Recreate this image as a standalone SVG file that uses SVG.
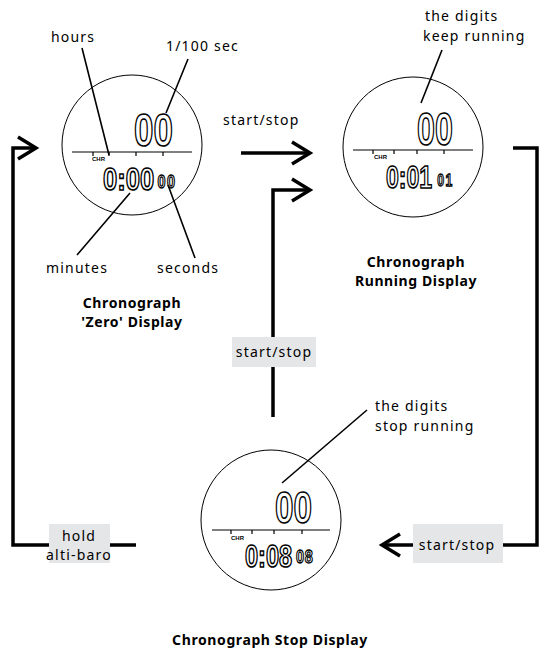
<svg xmlns="http://www.w3.org/2000/svg" width="540" height="652" viewBox="0 0 540 652">
<style>
.lbl{font-family:"Noto Sans","Open Sans",sans-serif;font-size:14px;letter-spacing:1.2px;fill:#000}
.ttl{font-family:"Noto Sans","Open Sans",sans-serif;font-size:14px;font-weight:bold;letter-spacing:0.6px;fill:#000}
.face{fill:#fff;stroke:#000;stroke-width:1}
.rule{stroke:#000;stroke-width:1.2;fill:none}
.lcd{font-family:"Liberation Sans",sans-serif;font-weight:bold;fill:#fff;stroke:#000;stroke-width:1.6}
.sm{stroke-width:1.3}
.chr{font-family:"Liberation Sans",sans-serif;font-size:6px;font-weight:bold;fill:#000}
.lead{stroke:#000;stroke-width:1.6;fill:none}
.conn{stroke:#000;stroke-width:3.5;fill:none}
.box{fill:#e5e6e7}
</style>
<defs>
<marker id="chev" markerUnits="userSpaceOnUse" orient="auto" overflow="visible" refX="0" refY="0" markerWidth="1" markerHeight="1">
<path d="M-18,-11 L0,0 L-18,11" fill="none" stroke="#000" stroke-width="3.5"/>
</marker>
</defs>
<rect width="540" height="652" fill="#fff"/>

<g id="connectors">
<path class="conn" d="M136,545 H13 V148 H36" marker-end="url(#chev)"/>
<path class="conn" d="M241,153 H310" marker-end="url(#chev)"/>
<path class="conn" d="M273,417 V190 H310" marker-end="url(#chev)"/>
<path class="conn" d="M513,148 H537 V545 H382" marker-end="url(#chev)"/>
<text class="lbl" x="223" y="125">start/stop</text>
<rect class="box" x="232" y="337" width="84" height="30"/>
<text class="lbl" x="274" y="357" text-anchor="middle">start/stop</text>
<rect class="box" x="49" y="524" width="61" height="39"/>
<text class="lbl" x="79" y="541" text-anchor="middle">hold</text>
<text class="lbl" x="79" y="560" text-anchor="middle">alti-baro</text>
<rect class="box" x="413" y="524" width="90" height="39"/>
<text class="lbl" x="457" y="550" text-anchor="middle">start/stop</text>
</g>

<g id="zero-display">
<circle class="face" cx="132" cy="145" r="70"/>
<path class="rule" d="M72,152 H192 M93,152 v4 M109,152 v4 M136,152 v4 M163,152 v4"/>
<text class="chr" x="92" y="161">CHR</text>
<text class="lcd" transform="translate(134,146) scale(0.76,1)" font-size="46">00</text>
<text class="lcd" transform="translate(103,190) scale(0.8,1)" font-size="32">0:00<tspan class="sm" font-size="18" dx="4" dy="-2" letter-spacing="2">00</tspan></text>
<path class="lead" d="M82,48 L109,155 M188,59 L166,113 M77,255 L130,193 M195,258 L168,185"/>
<text class="lbl" x="51" y="42">hours</text>
<text class="lbl" x="166" y="51">1/100 sec</text>
<text class="lbl" x="46" y="273">minutes</text>
<text class="lbl" x="157" y="273">seconds</text>
<text class="ttl" x="132" y="308" text-anchor="middle">Chronograph</text>
<text class="ttl" x="132" y="327" text-anchor="middle">'Zero' Display</text>
</g>

<g id="running-display">
<circle class="face" cx="413" cy="147" r="70"/>
<path class="rule" d="M353,150 H473 M373,150 v4 M394,150 v4 M417,150 v4 M444,150 v4"/>
<text class="chr" x="374" y="159">CHR</text>
<text class="lcd" transform="translate(417,145) scale(0.7,1)" font-size="46">00</text>
<text class="lcd" transform="translate(386,188) scale(0.72,1)" font-size="32">0:01<tspan class="sm" font-size="17" dx="7" dy="-2" letter-spacing="2">01</tspan></text>
<path class="lead" d="M442,50 L421,103"/>
<text class="lbl" x="425" y="21">the digits</text>
<text class="lbl" x="423" y="41">keep running</text>
<text class="ttl" x="416" y="267" text-anchor="middle">Chronograph</text>
<text class="ttl" x="416" y="286" text-anchor="middle">Running Display</text>
</g>

<g id="stop-display">
<circle class="face" cx="271" cy="520" r="70"/>
<path class="rule" d="M212,530 H330 M231,530 v4 M252,530 v4 M274,530 v4 M302,530 v4"/>
<text class="chr" x="231" y="540">CHR</text>
<text class="lcd" transform="translate(275,523) scale(0.74,1)" font-size="45">00</text>
<text class="lcd" transform="translate(245,567) scale(0.76,1)" font-size="31">0:08<tspan class="sm" font-size="19" dx="5" dy="-4" letter-spacing="1">08</tspan></text>
<path class="lead" d="M367,410 L282,483"/>
<text class="lbl" x="375" y="411">the digits</text>
<text class="lbl" x="375" y="431">stop running</text>
<text class="ttl" x="270" y="645" text-anchor="middle">Chronograph Stop Display</text>
</g>
</svg>
